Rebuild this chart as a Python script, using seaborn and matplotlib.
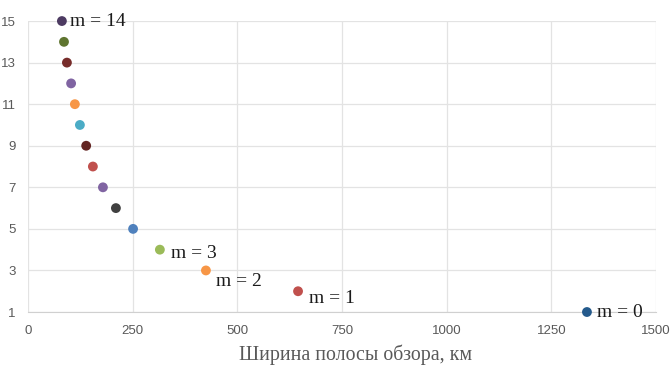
import pandas as pd
import matplotlib.pyplot as plt
import seaborn as sns

# Swath width (km) for each m
m_values = list(range(15))
swath_km = [1335, 645, 425, 315, 251, 210, 179, 155, 139, 124, 112, 103, 93, 86, 81]
point_colors = ['#245A8C', '#C0504D', '#F79646', '#9BBB59', '#4F81BD', '#404040',
                '#8064A2', '#C0504D', '#632523', '#4BACC6', '#F79646', '#8064A2',
                '#772C2A', '#5F7530', '#4D3B62']
labelled = {0: (7.5, 0), 1: (8, -5), 2: (7, -8), 3: (8, -3), 14: (5.5, 0)}

df = pd.DataFrame({'m': m_values, 'width': swath_km})
df['level'] = df['m'] + 1

sns.set_style('white')
plt.rcParams['font.family'] = ['Liberation Serif', 'DejaVu Serif']

fig = plt.figure(figsize=(6.71, 3.66), dpi=100)
ax = fig.add_axes([0.0417, 0.1475, 0.936, 0.795])

sns.scatterplot(data=df, x='width', y='level', hue='m', palette=point_colors,
                s=50, edgecolor='none', legend=False, ax=ax, zorder=3,
                clip_on=False)

for m, (dx, dy) in labelled.items():
    ax.annotate(f'm = {m}', (swath_km[m], m + 1), xytext=(dx, dy),
                textcoords='offset points', ha='left', va='center',
                fontsize=14, color='#1a1a1a', annotation_clip=False)

ax.set_xlim(0, 1500)
ax.set_ylim(1, 15)
ax.set_xticks(range(0, 1501, 250))
ax.set_yticks(range(1, 16, 2))
ax.grid(True, color='#e3e3e3', linewidth=0.9)
ax.set_axisbelow(True)
for side in ['left', 'right', 'top']:
    ax.spines[side].set_visible(False)
ax.spines['bottom'].set_color('#d0d0d0')
ax.tick_params(axis='both', length=0, labelsize=9.5, labelcolor='#595959', pad=9)
for lbl in ax.get_xticklabels() + ax.get_yticklabels():
    lbl.set_family('Liberation Sans')
ax.tick_params(axis='y', pad=9)
ax.set_xlabel('Ширина полосы обзора, км', fontsize=14.3, color='#595959',
              labelpad=6, x=0.522)
ax.set_ylabel('')

fig.savefig('out.png', dpi=100)
